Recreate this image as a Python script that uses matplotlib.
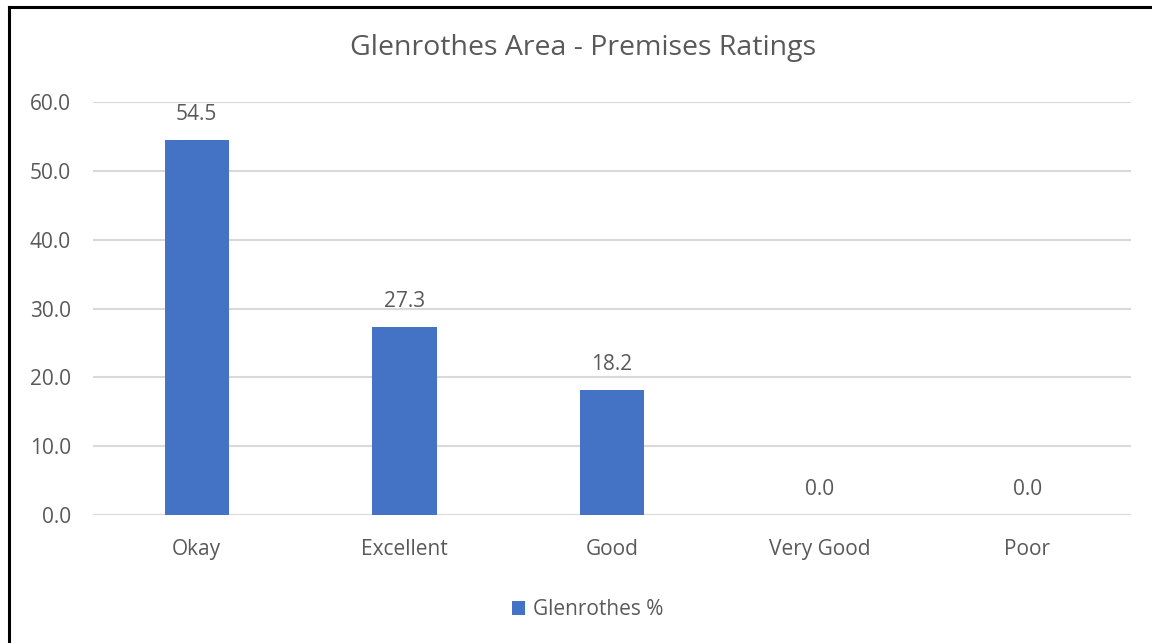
import matplotlib.pyplot as plt
from matplotlib.lines import Line2D
import numpy as np

categories = ["Okay", "Excellent", "Good", "Very Good", "Poor"]
values = [54.5, 27.3, 18.2, 0.0, 0.0]
series_name = "Glenrothes %"
title = "Glenrothes Area - Premises Ratings"

bar_color = "#4472C4"
text_color = "#595959"
grid_color = "#D9D9D9"

plt.rcParams["font.family"] = ["Open Sans", "DejaVu Sans"]

fig = plt.figure(figsize=(11.52, 6.43), dpi=100)
ax = fig.add_axes([0.0807, 0.199, 0.901, 0.6423])

x = np.arange(len(categories))
bars = ax.bar(x, values, width=0.31, color=bar_color, label=series_name, zorder=3)

for xi, v in zip(x, values):
    ax.text(xi, v + 3.7, f"{v:.1f}", ha="center", va="center",
            fontsize=15, color=text_color)

ax.set_xlim(-0.5, len(categories) - 0.5)
ax.set_ylim(0, 60)
ax.set_yticks(np.arange(0, 61, 10))
ax.set_yticklabels([f"{t:.1f}" for t in np.arange(0, 61, 10)])
ax.set_xticks(x)
ax.set_xticklabels(categories)
ax.tick_params(axis="both", length=0, labelsize=15, labelcolor=text_color)
ax.tick_params(axis="y", pad=16)
ax.tick_params(axis="x", pad=17)
ax.yaxis.grid(True, color=grid_color, linewidth=1.5, zorder=0)
for s in ax.spines.values():
    s.set_visible(False)

fig.text(0.506, 0.925, title, ha="center", va="center", fontsize=20.5, color=text_color)

leg = fig.legend(handles=[bars], labels=[series_name], loc="center",
                 bbox_to_anchor=(0.51, 0.052), frameon=False, fontsize=15,
                 handlelength=0.65, handleheight=0.65, handletextpad=0.35)
for t in leg.get_texts():
    t.set_color(text_color)

# outer border (left and top edges visible in the crop)
fig.add_artist(Line2D([0.0078, 0.0078], [0.0, 0.9891], color="black",
                      linewidth=2.2, transform=fig.transFigure))
fig.add_artist(Line2D([0.0078, 1.0], [0.9891, 0.9891], color="black",
                      linewidth=2.2, transform=fig.transFigure))

fig.savefig("out.png", dpi=100)
